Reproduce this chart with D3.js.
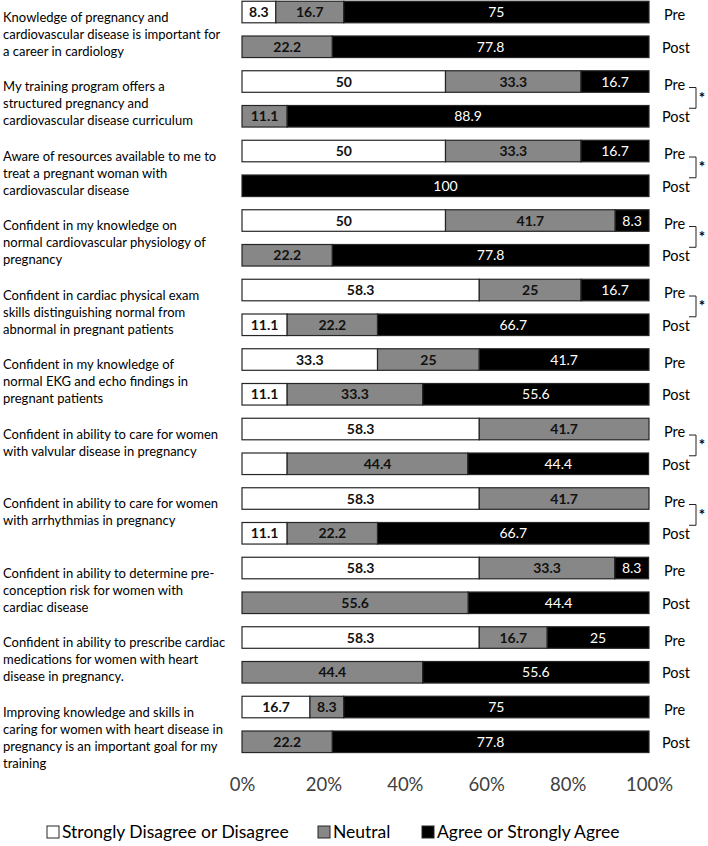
<!DOCTYPE html>
<html>
<head>
<meta charset="utf-8">
<script src="https://cdn.jsdelivr.net/npm/d3@7"></script>
<style>
  body { margin: 0; background: #fff; }
  svg { font-family: Lato, "Open Sans", sans-serif; }
</style>
</head>
<body>
<script>
// question labels, already wrapped as in the figure
const questions = [
  ["Knowledge of pregnancy and", "cardiovascular disease is important for", "a career in cardiology"],
  ["My training program offers a", "structured pregnancy and", "cardiovascular disease curriculum"],
  ["Aware of resources available to me to", "treat a pregnant woman with", "cardiovascular disease"],
  ["Confident in my knowledge on", "normal cardiovascular physiology of", "pregnancy"],
  ["Confident in cardiac physical exam", "skills distinguishing normal from", "abnormal in pregnant patients"],
  ["Confident in my knowledge of", "normal EKG and echo findings in", "pregnant patients"],
  ["Confident in ability to care for women", "with valvular disease in pregnancy"],
  ["Confident in ability to care for women", "with arrhythmias in pregnancy"],
  ["Confident in ability to determine pre-", "conception risk for women with", "cardiac disease"],
  ["Confident in ability to prescribe cardiac", "medications for women with heart", "disease in pregnancy."],
  ["Improving knowledge and skills in", "caring for women with heart disease in", "pregnancy is an important goal for my", "training"]
];

const categories = ["Strongly Disagree or Disagree", "Neutral", "Agree or Strongly Agree"];
const phases = ["Pre", "Post"];

// percent per category [disagree, neutral, agree]
const preValues = [
  [8.3, 16.7, 75],
  [50, 33.3, 16.7],
  [50, 33.3, 16.7],
  [50, 41.7, 8.3],
  [58.3, 25, 16.7],
  [33.3, 25, 41.7],
  [58.3, 41.7, 0],
  [58.3, 41.7, 0],
  [58.3, 33.3, 8.3],
  [58.3, 16.7, 25],
  [16.7, 8.3, 75]
];
const postValues = [
  [0, 22.2, 77.8],
  [0, 11.1, 88.9],
  [0, 0, 100],
  [0, 22.2, 77.8],
  [11.1, 22.2, 66.7],
  [11.1, 33.3, 55.6],
  [11.1, 44.4, 44.4],
  [11.1, 22.2, 66.7],
  [0, 55.6, 44.4],
  [0, 44.4, 55.6],
  [0, 22.2, 77.8]
];
// segments drawn without a value label in the figure: question-phase-category
const unlabeled = ["6-Post-0"];
// questions with a significant pre/post difference
const significant = [1, 2, 3, 4, 6, 7];
const xTicks = [0, 20, 40, 60, 80, 100];

const W = 708, H = 846;
const colors = ["#ffffff", "#878787", "#000000"];

const svg = d3.select("body").append("svg")
  .attr("width", W)
  .attr("height", H);

const rows = [];
questions.forEach((q, i) => {
  rows.push({q: i, phase: "Pre", vals: preValues[i]});
  rows.push({q: i, phase: "Post", vals: postValues[i]});
});
const rowKey = (d) => d.q + "-" + d.phase;

const x = d3.scaleLinear().domain([0, 100]).range([242, 649]);
const y = d3.scaleBand()
  .domain(rows.map(rowKey))
  .range([-5.35, 759.15])
  .paddingInner(0.38)
  .paddingOuter(0.19);

// segments
const segs = [];
rows.forEach((r) => {
  let acc = 0;
  r.vals.forEach((v, c) => {
    segs.push({row: r, c: c, v: v, x0: acc, x1: acc + v});
    acc += v;
  });
});

const bars = svg.append("g");
bars.selectAll("rect")
  .data(segs.filter((d) => d.v > 0))
  .enter()
  .append("rect")
  .attr("x", (d) => x(d.x0))
  .attr("y", (d) => y(rowKey(d.row)))
  .attr("width", (d) => x(d.x1) - x(d.x0))
  .attr("height", y.bandwidth())
  .attr("fill", (d) => colors[d.c])
  .attr("stroke", "#262626")
  .attr("stroke-width", 1.2);

bars.selectAll("text")
  .data(segs.filter((d) => d.v > 0 && unlabeled.indexOf(rowKey(d.row) + "-" + d.c) < 0))
  .enter()
  .append("text")
  .attr("x", (d) => (x(d.x0) + x(d.x1)) / 2)
  .attr("y", (d) => y(rowKey(d.row)) + y.bandwidth() / 2)
  .attr("dy", "0.36em")
  .attr("text-anchor", "middle")
  .style("font-size", "14px")
  .style("font-weight", (d) => d.c == 2 ? "normal" : "bold")
  .attr("fill", (d) => d.c == 2 ? "#fff" : "#111")
  .text((d) => d.v);

// Pre / Post labels
svg.append("g").selectAll("text")
  .data(rows)
  .enter()
  .append("text")
  .attr("x", (d) => d.phase == "Pre" ? 664 : 662)
  .attr("y", (d) => y(rowKey(d)) + y.bandwidth() / 2 + (d.phase == "Pre" ? 3 : 1))
  .attr("dy", "0.36em")
  .style("font-size", "14.5px")
  .attr("fill", "#000")
  .text((d) => d.phase);

// significance brackets
const br = svg.append("g").selectAll("g")
  .data(significant)
  .enter()
  .append("g");
const preC = (q) => y(q + "-Pre") + y.bandwidth() / 2;
const postC = (q) => y(q + "-Post") + y.bandwidth() / 2;
br.append("path")
  .attr("d", (q) => "M689," + (preC(q) + 6) + "H696V" + (postC(q) - 8) + "H689")
  .attr("fill", "none")
  .attr("stroke", "#222")
  .attr("stroke-width", 1);
br.append("text")
  .attr("x", 702)
  .attr("y", (q) => (preC(q) + postC(q)) / 2 + 4)
  .attr("text-anchor", "middle")
  .style("font-size", "15px")
  .style("font-weight", "bold")
  .text("*");

// question labels
const ql = svg.append("g").selectAll("text")
  .data(questions)
  .enter()
  .append("text")
  .attr("x", 3)
  .attr("y", (d, i) => preC(i) + 5)
  .style("font-size", "13px")
  .attr("fill", "#000");
ql.selectAll("tspan")
  .data((d) => d)
  .enter()
  .append("tspan")
  .attr("x", 3)
  .attr("dy", (d, j) => j == 0 ? "0.36em" : "17px")
  .text((d) => d);

// x axis labels only
const xAxis = d3.axisBottom(x)
  .tickValues(xTicks)
  .tickFormat((d) => d + "%")
  .tickSize(0)
  .tickPadding(0);
const ax = svg.append("g")
  .attr("transform", "translate(0,778)")
  .call(xAxis);
ax.select(".domain").remove();
ax.selectAll("text")
  .style("font-size", "18.5px")
  .style("font-family", "Lato, sans-serif")
  .attr("fill", "#404040");

// legend
const legendX = [47, 318, 422];
const lg = svg.append("g").selectAll("g")
  .data(categories)
  .enter()
  .append("g")
  .attr("transform", (d, i) => "translate(" + legendX[i] + ",832)");
lg.append("rect")
  .attr("x", 0)
  .attr("y", -6)
  .attr("width", 12)
  .attr("height", 12)
  .attr("fill", (d, i) => colors[i])
  .attr("stroke", "#262626")
  .attr("stroke-width", 1);
lg.append("text")
  .attr("x", 15)
  .attr("y", 0)
  .attr("dy", "0.36em")
  .style("font-size", "17.5px")
  .attr("fill", "#000")
  .text((d) => d);
</script>
</body>
</html>
